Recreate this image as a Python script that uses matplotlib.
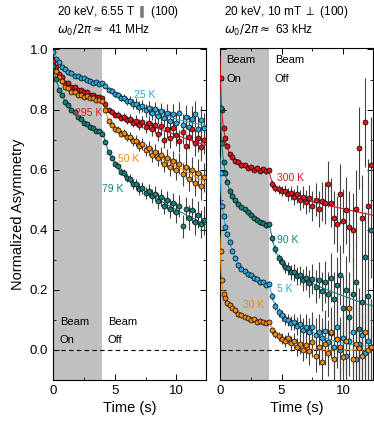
import matplotlib
matplotlib.use("Agg")
import matplotlib.pyplot as plt
from matplotlib.ticker import MultipleLocator, FormatStrFormatter

plt.rcParams['font.family'] = ['Liberation Sans', 'DejaVu Sans']
plt.rcParams['mathtext.fontset'] = 'dejavusans'

# time grids (s)
t_left = [0.0, 0.25, 0.5, 0.75, 1.0, 1.25, 1.5, 1.75, 2.0, 2.25, 2.5, 2.75, 3.0, 3.25, 3.5, 3.75, 4.0,
          4.25, 4.5, 4.75, 5.0, 5.25, 5.5, 5.75, 6.0, 6.25, 6.5, 6.75, 7.0, 7.25, 7.5, 7.75, 8.0,
          8.25, 8.5, 8.75, 9.0, 9.25, 9.5, 9.75, 10.0, 10.25, 10.5, 10.75, 11.0, 11.25, 11.5, 11.75, 12.0, 12.25]
t_right = [0.05, 0.15, 0.3, 0.45, 0.6, 0.8, 1.0, 1.25, 1.5, 1.75, 2.0, 2.25, 2.5, 2.75, 3.0, 3.25, 3.5, 3.75, 4.0,
           4.25, 4.5, 4.75, 5.0, 5.25, 5.5, 5.75, 6.0, 6.25, 6.5, 6.75, 7.0, 7.25, 7.5, 7.75, 8.0,
           8.25, 8.5, 8.75, 9.0, 9.25, 9.5, 9.75, 10.0, 10.25, 10.5, 10.75, 11.0, 11.25, 11.5, 11.75, 12.0, 12.25]

# left panel: 6.55 T
a_25K = [0.992, 0.970, 0.958, 0.941, 0.935, 0.924, 0.921, 0.913, 0.911, 0.904,
         0.905, 0.898, 0.895, 0.890, 0.892, 0.886, 0.888,
         0.879, 0.866, 0.862, 0.851, 0.849, 0.839, 0.840, 0.829, 0.830, 0.818,
         0.820, 0.808, 0.812, 0.797, 0.805, 0.788, 0.801, 0.778, 0.795, 0.772,
         0.790, 0.762, 0.785, 0.755, 0.790, 0.748, 0.775, 0.742, 0.770, 0.785,
         0.735, 0.765, 0.740]
a_295K = [0.962, 0.942, 0.918, 0.907, 0.890, 0.887, 0.875, 0.874, 0.865, 0.866,
          0.859, 0.860, 0.849, 0.847, 0.842, 0.843, 0.837,
          0.817, 0.798, 0.793, 0.782, 0.783, 0.773, 0.775, 0.765, 0.770, 0.757,
          0.763, 0.750, 0.758, 0.742, 0.755, 0.735, 0.748, 0.720, 0.745, 0.700,
          0.735, 0.705, 0.740, 0.715, 0.695, 0.725, 0.680, 0.710, 0.735, 0.690,
          0.705, 0.675, 0.700]
a_50K = [0.948, 0.930, 0.908, 0.895, 0.876, 0.871, 0.860, 0.858, 0.849, 0.850,
         0.843, 0.844, 0.837, 0.838, 0.832, 0.833, 0.827,
         0.797, 0.762, 0.750, 0.735, 0.733, 0.720, 0.721, 0.708, 0.709, 0.694,
         0.697, 0.680, 0.684, 0.665, 0.672, 0.650, 0.660, 0.638, 0.648, 0.620,
         0.640, 0.610, 0.630, 0.600, 0.620, 0.585, 0.610, 0.570, 0.600, 0.555,
         0.590, 0.545, 0.575]
a_79K = [0.944, 0.902, 0.865, 0.847, 0.826, 0.815, 0.798, 0.791, 0.776, 0.770,
         0.756, 0.752, 0.741, 0.738, 0.729, 0.728, 0.720,
         0.692, 0.658, 0.640, 0.620, 0.611, 0.593, 0.588, 0.572, 0.569, 0.553,
         0.552, 0.536, 0.538, 0.522, 0.530, 0.512, 0.520, 0.495, 0.508, 0.480,
         0.500, 0.470, 0.490, 0.458, 0.480, 0.412, 0.470, 0.440, 0.465, 0.425,
         0.450, 0.418, 0.432]
err_left = [0.006] * 17 + [0.007, 0.008, 0.009, 0.010, 0.011, 0.012, 0.013, 0.014, 0.015, 0.016, 0.018,
                           0.019, 0.020, 0.021, 0.022, 0.024, 0.025, 0.026, 0.028, 0.029, 0.030, 0.032,
                           0.033, 0.035, 0.036, 0.038, 0.039, 0.041, 0.042, 0.044, 0.045, 0.047, 0.048]

# right panel: 10 mT
a_300K = [0.905, 0.80, 0.74, 0.705, 0.68, 0.652, 0.643, 0.630, 0.626, 0.615, 0.614, 0.606, 0.609, 0.600,
          0.604, 0.597, 0.601, 0.594, 0.598,
          0.552, 0.540, 0.535, 0.528, 0.530, 0.518, 0.522, 0.510, 0.518, 0.498, 0.508, 0.492, 0.505,
          0.478, 0.500, 0.470, 0.495, 0.488, 0.553, 0.490, 0.440, 0.420, 0.520, 0.430, 0.465, 0.410,
          0.400, 0.470, 0.673, 0.440, 0.758, 0.480, 0.614]
a_90K = [0.805, 0.69, 0.625, 0.59, 0.56, 0.530, 0.512, 0.498, 0.486, 0.475, 0.468, 0.458, 0.450, 0.440,
         0.434, 0.425, 0.424, 0.415, 0.418,
         0.372, 0.335, 0.305, 0.292, 0.275, 0.272, 0.258, 0.258, 0.245, 0.248, 0.232, 0.240, 0.222,
         0.235, 0.210, 0.232, 0.195, 0.225, 0.185, 0.240, 0.170, 0.215, 0.250, 0.140, 0.200, 0.110,
         0.185, 0.225, 0.070, 0.160, 0.310, 0.180, 0.400]
a_5K = [0.590, 0.480, 0.445, 0.410, 0.385, 0.360, 0.330, 0.305, 0.282, 0.270, 0.262, 0.252, 0.248, 0.238,
        0.235, 0.225, 0.226, 0.216, 0.220,
        0.178, 0.145, 0.125, 0.115, 0.102, 0.100, 0.090, 0.092, 0.080, 0.085, 0.068, 0.078, 0.060,
        0.075, 0.050, 0.060, 0.040, 0.062, 0.025, 0.055, 0.010, 0.075, 0.000, 0.040, -0.020, 0.030,
        0.060, -0.030, 0.020, 0.050, -0.010, 0.030, 0.010]
a_30K = [0.328, 0.233, 0.185, 0.172, 0.155, 0.150, 0.140, 0.132, 0.118, 0.115, 0.110, 0.106, 0.100, 0.102,
         0.094, 0.097, 0.092, 0.090, 0.094,
         0.065, 0.052, 0.045, 0.038, 0.030, 0.040, 0.022, 0.030, 0.010, 0.020, 0.000, 0.015, -0.005,
         0.025, -0.020, 0.010, -0.040, 0.020, -0.010, 0.060, -0.030, 0.035, 0.010, -0.025, 0.030,
         0.140, -0.030, 0.020, 0.005, -0.020, 0.060, 0.000, 0.010]
err_right = [0.008] * 19 + [0.012, 0.013, 0.015, 0.017, 0.019, 0.021, 0.024, 0.027, 0.030, 0.033, 0.037,
                            0.041, 0.045, 0.050, 0.055, 0.060, 0.065, 0.070, 0.076, 0.082, 0.088, 0.094,
                            0.100, 0.106, 0.112, 0.118, 0.124, 0.130, 0.136, 0.142, 0.148, 0.154, 0.160]

# fit curves
fit_t_left = [0, 0.25, 0.5, 0.75, 1, 1.5, 2, 2.5, 3, 3.5, 4, 4.25, 4.5, 5, 5.5, 6, 7, 8, 9, 10, 11, 12, 12.5]
fit_25K = [0.99, 0.972, 0.957, 0.944, 0.933, 0.92, 0.908, 0.899, 0.893, 0.889, 0.886, 0.877, 0.868, 0.853,
           0.842, 0.832, 0.812, 0.795, 0.781, 0.768, 0.758, 0.75, 0.746]
fit_295K = [0.965, 0.94, 0.92, 0.905, 0.893, 0.877, 0.865, 0.856, 0.849, 0.843, 0.838, 0.815, 0.80, 0.785,
            0.776, 0.769, 0.756, 0.745, 0.73, 0.715, 0.70, 0.687, 0.681]
fit_50K = [0.95, 0.928, 0.91, 0.893, 0.878, 0.862, 0.851, 0.845, 0.839, 0.834, 0.829, 0.795, 0.765, 0.738,
           0.724, 0.712, 0.686, 0.659, 0.633, 0.611, 0.59, 0.565, 0.553]
fit_79K = [0.945, 0.9, 0.867, 0.845, 0.828, 0.80, 0.778, 0.758, 0.743, 0.735, 0.728, 0.69, 0.66, 0.622,
           0.596, 0.575, 0.54, 0.515, 0.49, 0.467, 0.445, 0.425, 0.415]
fit_t_right = [0, 0.05, 0.1, 0.2, 0.3, 0.5, 0.75, 1, 1.5, 2, 2.5, 3, 3.5, 4, 4.1, 4.25, 4.5, 5, 5.5, 6,
               7, 8, 9, 10, 11, 12, 12.5]
fit_300K = [0.98, 0.9, 0.83, 0.77, 0.735, 0.69, 0.655, 0.64, 0.624, 0.613, 0.606, 0.601, 0.599, 0.597,
            0.575, 0.555, 0.54, 0.527, 0.518, 0.51, 0.498, 0.488, 0.479, 0.47, 0.461, 0.452, 0.447]
fit_90K = [0.86, 0.79, 0.73, 0.665, 0.625, 0.575, 0.535, 0.51, 0.485, 0.468, 0.45, 0.435, 0.424, 0.417,
           0.398, 0.37, 0.33, 0.29, 0.27, 0.255, 0.232, 0.212, 0.195, 0.18, 0.165, 0.151, 0.146]
fit_5K = [0.64, 0.56, 0.51, 0.47, 0.445, 0.40, 0.365, 0.33, 0.283, 0.262, 0.245, 0.233, 0.224, 0.218,
          0.2, 0.175, 0.145, 0.115, 0.098, 0.088, 0.07, 0.05, 0.033, 0.022, 0.016, 0.013, 0.012]
fit_30K = [0.38, 0.31, 0.26, 0.21, 0.185, 0.162, 0.148, 0.138, 0.122, 0.112, 0.104, 0.098, 0.094, 0.091,
           0.083, 0.072, 0.058, 0.036, 0.022, 0.013, 0.004, 0.001, 0, 0, 0, 0, 0]

c_blue = '#29abe2'
c_red = '#e8141b'
c_orange = '#f58a07'
c_teal = '#13827f'

left_series = [(a_25K, fit_25K, c_blue, '25 K', 7.45, 0.848),
               (a_295K, fit_295K, c_red, '295 K', 2.85, 0.79),
               (a_50K, fit_50K, c_orange, '50 K', 6.1, 0.635),
               (a_79K, fit_79K, c_teal, '79 K', 4.86, 0.537)]
right_series = [(a_300K, fit_300K, c_red, '300 K', 5.75, 0.573),
                (a_90K, fit_90K, c_teal, '90 K', 5.5, 0.367),
                (a_5K, fit_5K, c_blue, '5 K', 5.25, 0.203),
                (a_30K, fit_30K, c_orange, '30 K', 2.7, 0.15)]

fig = plt.figure(figsize=(3.74, 4.24), dpi=100)
ax1 = fig.add_axes([0.1417, 0.1038, 0.409, 0.783])
ax2 = fig.add_axes([0.588, 0.1038, 0.409, 0.783])


def draw_panel(ax, t, err, series, fit_t):
    ax.axvspan(0, 4, color='#c0c0c0', lw=0, zorder=0)
    ax.axhline(0, color='black', ls='--', lw=0.8, dashes=(4, 3), zorder=1)
    for vals, fit, col, lab, lx, ly in series:
        ax.errorbar(t, vals, yerr=err, fmt='none', ecolor='#444444', elinewidth=0.8, zorder=2)
        ax.plot(fit_t, fit, color=col, lw=0.8, zorder=3)
        ax.plot(t, vals, 'o', ms=3.6, mfc=col, mec='black', mew=0.5, zorder=4)
        ax.text(lx, ly, lab, color=col, fontsize=7.5, ha='center', va='center', zorder=5)
    ax.set_xlim(0, 12.4)
    ax.set_ylim(-0.1, 1.005)
    ax.xaxis.set_major_locator(MultipleLocator(5))
    ax.xaxis.set_minor_locator(MultipleLocator(2.5))
    ax.yaxis.set_major_locator(MultipleLocator(0.2))
    ax.yaxis.set_minor_locator(MultipleLocator(0.1))
    ax.yaxis.set_major_formatter(FormatStrFormatter('%.1f'))
    ax.tick_params(which='both', direction='in', top=True, right=True, labelsize=9.5)
    ax.tick_params(which='major', length=4, width=0.7)
    ax.tick_params(which='minor', length=2.5, width=0.6)
    for s in ax.spines.values():
        s.set_linewidth(0.8)
    ax.set_xlabel('Time (s)', fontsize=10.5, labelpad=3)


draw_panel(ax1, t_left, err_left, left_series, fit_t_left)
draw_panel(ax2, t_right, err_right, right_series, fit_t_right)

ax1.set_ylabel('Normalized Asymmetry', fontsize=10.5, labelpad=3)
ax2.tick_params(labelleft=False)

# beam on / off labels
ax1.text(0.55, 0.093, 'Beam', fontsize=8, va='center')
ax1.text(0.55, 0.033, 'On', fontsize=8, va='center')
ax1.text(4.45, 0.093, 'Beam', fontsize=8, va='center')
ax1.text(4.45, 0.033, 'Off', fontsize=8, va='center')
ax2.text(0.5, 0.964, 'Beam', fontsize=8, va='center')
ax2.text(0.5, 0.903, 'On', fontsize=8, va='center')
ax2.text(4.45, 0.964, 'Beam', fontsize=8, va='center')
ax2.text(4.45, 0.903, 'Off', fontsize=8, va='center')

# headers
ax1.text(0.025, 1.108, '20 keV, 6.55 T $\\parallel$ (100)', transform=ax1.transAxes,
         fontsize=8.5, va='center', ha='left')
ax1.text(0.025, 1.054, '$\\omega_0/2\\pi \\approx$ 41 MHz', transform=ax1.transAxes,
         fontsize=8.5, va='center', ha='left')
ax2.text(0.025, 1.108, '20 keV, 10 mT $\\perp$ (100)', transform=ax2.transAxes,
         fontsize=8.5, va='center', ha='left')
ax2.text(0.025, 1.054, '$\\omega_0/2\\pi \\approx$ 63 kHz', transform=ax2.transAxes,
         fontsize=8.5, va='center', ha='left')

fig.savefig('out.png', dpi=100)
